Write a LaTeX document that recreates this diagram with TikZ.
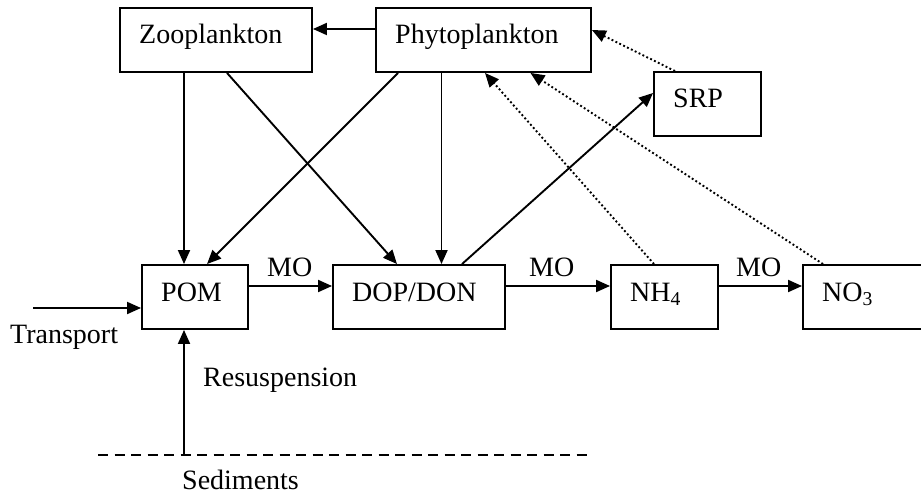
\documentclass[tikz,border=0pt]{standalone}
\usepackage{fontspec}
\setmainfont{Liberation Serif}
\usetikzlibrary{arrows.meta}
\begin{document}
\begin{tikzpicture}[x=1pt,y=-1pt,
  box/.style={draw, line width=1.9pt, minimum height=64, inner sep=0pt},
  txt/.style={inner sep=0pt, anchor=base west, font=\fontsize{28}{34}\selectfont},
  arr/.style={line width=1.9pt, -{Triangle[length=14pt,width=12pt]}},
  dotarr/.style={line width=1.9pt, dash pattern=on 1.9pt off 2.4pt, -{Triangle[length=14pt,width=12pt]}},
  sedline/.style={line width=1.6pt, dash pattern=on 10pt off 6.5pt}]
\useasboundingbox (0,0) rectangle (921,495);
% boxes
\node[box, minimum width=192] (zoo) at (216,40) {};
\node[box, minimum width=215] (phy) at (483.5,40) {};
\node[box, minimum width=107] (srp) at (707.5,104) {};
\node[box, minimum width=106] (pom) at (195,297) {};
\node[box, minimum width=172] (dop) at (419,297) {};
\node[box, minimum width=107] (nh4) at (664.5,297) {};
\node[box, minimum width=125] (no3) at (865.5,297) {};
% box texts
\node[txt] (zooT) at (139,44) {Zooplankton};
\node[txt] (phyT) at (395,44) {Phytoplankton};
\node[txt] (srpT) at (673,107) {SRP};
\node[txt] (pomT) at (161,301) {POM};
\node[txt] (dopT) at (352,301) {DOP/DON};
\node[txt] (nh4T) at (630,301) {NH\textsubscript{4}};
\node[txt] (no3T) at (822,301) {NO\textsubscript{3}};
% other labels
\node[txt] (mo1) at (267,276) {MO};
\node[txt] (mo2) at (529,276) {MO};
\node[txt] (mo3) at (736,276) {MO};
\node[txt] (trT) at (10,343) {Transport};
\node[txt] (rsT) at (203,386) {Resuspension};
\node[txt] (sedT) at (182,489) {Sediments};
% free-end coordinates
\coordinate (tr) at (33,308);
\coordinate (rs) at (184,455);
\coordinate (sedL) at (98,455);
\coordinate (sedR) at (592,455);
% solid connectors
\draw[arr] ([yshift=11pt]phy.west) -- ([yshift=11pt]zoo.east);
\draw[arr] ([xshift=-32pt]zoo.south) -- ([xshift=-11pt]pom.north);
\draw[arr] ([xshift=11pt]zoo.south) -- ([xshift=-22pt]dop.north);
\draw[arr] ([xshift=-85.5pt]phy.south) -- ([xshift=12pt]pom.north);
\draw[arr] ([xshift=-42pt]phy.south) -- ([xshift=22.5pt]dop.north);
\draw[arr] ([xshift=43pt]dop.north) -- ([yshift=11pt]srp.west);
\draw[arr] ([yshift=11pt]pom.east) -- ([yshift=11pt]dop.west);
\draw[arr] ([yshift=11pt]dop.east) -- ([yshift=11pt]nh4.west);
\draw[arr] ([yshift=11pt]nh4.east) -- ([yshift=11pt]no3.west);
\draw[arr] (tr) -- ([yshift=-11pt]pom.west);
\draw[arr] (rs) -- (pom.south -| rs);
% dotted connectors
\draw[dotarr] ([xshift=-10.5pt]nh4.north) -- ([xshift=1.5pt]phy.south);
\draw[dotarr] ([xshift=-42.5pt]no3.north) -- ([xshift=47pt]phy.south);
\draw[dotarr] ([xshift=-32.5pt]srp.north) -- ([yshift=10pt]phy.east);
% sediment line
\draw[sedline] (sedL) -- (sedR);
\end{tikzpicture}
\end{document}
